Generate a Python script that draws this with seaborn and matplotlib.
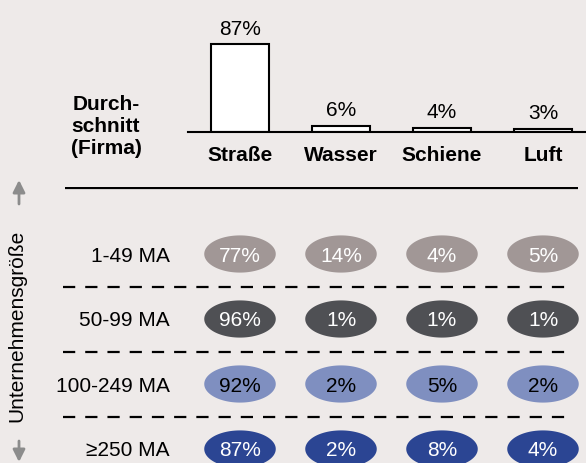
import numpy as np
import pandas as pd
import matplotlib
matplotlib.use("Agg")
import matplotlib.pyplot as plt
from matplotlib.path import Path
import seaborn as sns

# --------------------------
# Data
# --------------------------
modes = ["Straße", "Wasser", "Schiene", "Luft"]
avg_share = [87, 6, 4, 3]

sizes = ["1-49 MA", "50-99 MA", "100-249 MA", "≥250 MA"]
share_1_49 = [77, 14, 4, 5]
share_50_99 = [96, 1, 1, 1]
share_100_249 = [92, 2, 5, 2]
share_250 = [87, 2, 8, 4]

row_colors = ["#A19796", "#4F5054", "#7F8FC0", "#2B4593"]
text_colors = ["white", "white", "black", "white"]

rows = []
for r, vals in enumerate([share_1_49, share_50_99, share_100_249, share_250]):
    for c, v in enumerate(vals):
        rows.append({"size": sizes[r], "mode": modes[c], "row": r, "col": c, "share": v})
df = pd.DataFrame(rows)

# --------------------------
# Style
# --------------------------
sns.set_theme(style="white")
plt.rcParams["font.family"] = ["Liberation Sans", "DejaVu Sans"]
plt.rcParams["text.color"] = "black"
plt.rcParams["xtick.color"] = "black"
plt.rcParams["xtick.labelcolor"] = "black"
bg = "#EEEAE9"

W, H = 586, 463
fig = plt.figure(figsize=(W / 100, H / 100), dpi=100, facecolor=bg)

# column i sits at pixel 240 + 101*i
def px_to_col(px):
    return (px - 240) / 101

# row j sits at pixel 254 + 65*j
def py_to_row(py):
    return (py - 254) / 65

# --------------------------
# Top: average bar chart
# --------------------------
ax_bar = fig.add_axes([188 / W, 1 - 132 / H, (W - 188) / W, 112 / H])
ax_bar.set_facecolor(bg)
sns.barplot(x=modes, y=avg_share, color="white", edgecolor="black",
            linewidth=1.5, width=0.57, saturation=1, ax=ax_bar)
ax_bar.set_xlim(px_to_col(188), px_to_col(W))
ax_bar.set_ylim(0, 112 / 1.01)
ax_bar.bar_label(ax_bar.containers[0], labels=[f"{v}%" for v in avg_share],
                 padding=4, fontsize=15, color="black")
for s in ["top", "right", "left"]:
    ax_bar.spines[s].set_visible(False)
ax_bar.spines["bottom"].set_color("black")
ax_bar.spines["bottom"].set_linewidth(1.5)
ax_bar.set_yticks([])
ax_bar.tick_params(axis="x", length=0, pad=10)
for lab in ax_bar.get_xticklabels():
    lab.set_fontweight("bold")
    lab.set_fontsize(15)
    lab.set_color("black")
ax_bar.set_xlabel("")
ax_bar.set_ylabel("")

fig.text(106 / W, 1 - 126 / H, "Durch-\nschnitt\n(Firma)", ha="center", va="center",
         fontsize=15, fontweight="bold", linespacing=1.2)

# --------------------------
# Bottom: shares by company size
# --------------------------
ax = fig.add_axes([0, 0, 1, (H - 187) / H])
ax.set_facecolor(bg)
ax.patch.set_alpha(0)

t = np.linspace(0, 2 * np.pi, 100)
ellipse = Path(np.column_stack([np.cos(t), 0.52 * np.sin(t)]), closed=True)

sns.scatterplot(data=df, x="col", y="row", hue="size", hue_order=sizes,
                palette=row_colors, marker=ellipse, s=51.5 ** 2, linewidth=0,
                legend=False, ax=ax, clip_on=False)

for _, r in df.iterrows():
    ax.text(r["col"], r["row"], f"{r['share']}%", ha="center", va="center_baseline",
            fontsize=15, color=text_colors[r["row"]])

for j, lab in enumerate(sizes):
    ax.text(px_to_col(170), j, lab, ha="right", va="center_baseline", fontsize=15)

ax.set_xlim(px_to_col(0), px_to_col(W))
ax.set_ylim(py_to_row(H), py_to_row(187))

ax.hlines(py_to_row(187.5), px_to_col(65), px_to_col(578), color="black", lw=1.6)
ax.hlines([0.5, 1.5, 2.5], px_to_col(63), px_to_col(571), color="black", lw=1.6,
          linestyles=[(0, (5.5, 4.5))])

ax.text(px_to_col(17), py_to_row(326), "Unternehmensgröße", rotation=90,
        ha="center", va="center", fontsize=15)
arrow = dict(arrowstyle="-|>,head_length=0.6,head_width=0.3", color="#8C8C8C",
             lw=2, mutation_scale=12, shrinkA=0, shrinkB=0)
ax.annotate("", xy=(px_to_col(19), py_to_row(180)), xytext=(px_to_col(19), py_to_row(204)),
            arrowprops=arrow, annotation_clip=False)
ax.annotate("", xy=(px_to_col(19), py_to_row(462)), xytext=(px_to_col(19), py_to_row(441)),
            arrowprops=arrow, annotation_clip=False)

ax.axis("off")

plt.savefig("out.png", dpi=100, facecolor=bg)
plt.close()
